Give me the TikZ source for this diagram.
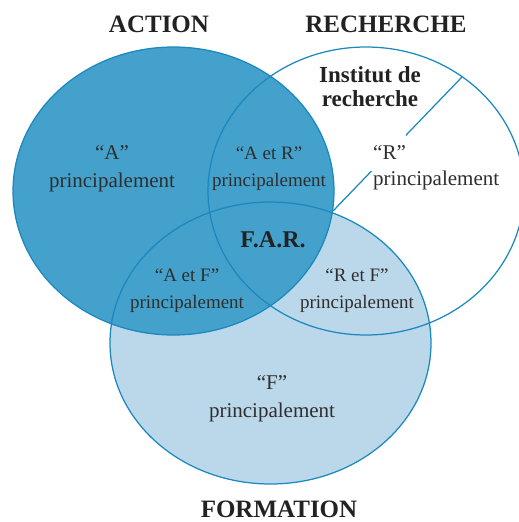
\documentclass[tikz,border=0pt]{standalone}
\usepackage{fontspec}
\setmainfont{Liberation Serif}
\definecolor{acol}{HTML}{43A1CC}
\definecolor{fcol}{HTML}{BBD8EB}
\definecolor{ecol}{HTML}{1B88BF}
\definecolor{tcol}{HTML}{2E2E2E}
\definecolor{hcol}{HTML}{222222}
\tikzset{
  edge/.style={draw=ecol, line width=1.25pt},
  heading/.style={font=\bfseries\fontsize{25}{28}\selectfont, text=hcol, inner sep=0pt},
  lbl/.style={font=\fontsize{21}{28}\selectfont, text=tcol, inner sep=0pt, align=center},
  lblsmall/.style={font=\fontsize{19}{27}\selectfont, text=tcol, inner sep=0pt, align=center},
  boldlbl/.style={font=\bfseries\fontsize{23}{24}\selectfont, text=hcol, inner sep=0pt, align=center}
}
\begin{document}
\begin{tikzpicture}[x=1pt,y=-1pt]
\useasboundingbox (0,0) rectangle (519,522);
\begin{scope}
\clip (0,0) rectangle (519,522);
\fill[fcol] (270.5,343) ellipse [x radius=160.5pt, y radius=141pt];
\fill[acol] (173.5,191) ellipse [x radius=160.5pt, y radius=144pt];
\draw[edge] (270.5,343) ellipse [x radius=160.5pt, y radius=141pt];
\draw[edge] (173.5,191) ellipse [x radius=160.5pt, y radius=144pt];
\draw[edge] (366,191) ellipse [x radius=158pt, y radius=144pt];
\end{scope}
% connector
\coordinate (inst) at (462,77);
\coordinate (corner) at (333,211);
\draw[edge] (inst) -- (corner);
% headings
\node[heading] (action) at (159,24) {ACTION};
\node[heading] (recherche) at (386,24) {RECHERCHE};
\node[heading] (formation) at (279,509) {FORMATION};
\node[boldlbl] (institut) at (370,87) {Institut de\\recherche};
% labels
\node[lbl] (a) at (112,169) {“A”\\principalement};
\node[lblsmall] (ar) at (269,169) {“A et R”\\principalement};
\node[lblsmall] (af) at (187,291) {“A et F”\\principalement};
\node[lblsmall] (rf) at (357,291) {“R et F”\\principalement};
\node[lbl] (f) at (272,399) {“F”\\principalement};
\node[font=\bfseries\fontsize{24}{26}\selectfont, text=hcol, inner sep=0pt] (far) at (273,240) {F.A.R.};
\node[fill=white, minimum width=36pt, minimum height=38pt, inner sep=0pt] (rbox) at (388,152) {};
\node[lbl, anchor=west] (rq) at (373,153) {“R”};
\node[lbl, anchor=west] (rp) at (373,180) {principalement};
\end{tikzpicture}
\end{document}
